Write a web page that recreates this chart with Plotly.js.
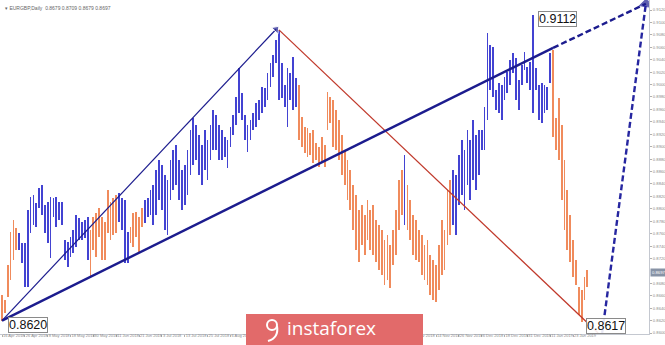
<!DOCTYPE html>
<html>
<head>
<meta charset="utf-8">
<script src="https://cdn.plot.ly/plotly-3.0.1.min.js"></script>
<style>
  html, body { margin: 0; padding: 0; background: #ffffff; }
  #chart { width: 665px; height: 345px; }
</style>
</head>
<body>
<div id="chart"></div>
<script>
// EURGBP, daily bars from 16 Apr 2018, one entry per trading day
const tickIndex = [0, 8, 16, 24, 32, 40, 48, 56, 64, 72, 80, 88, 96, 104, 112, 120, 128, 136, 144, 152, 160, 168, 176, 184, 192, 200];
const tickLabels = ['16 Apr 2018', '26 Apr 2018', '8 May 2018', '18 May 2018', '30 May 2018', '11 Jun 2018',
  '21 Jun 2018', '3 Jul 2018', '13 Jul 2018', '25 Jul 2018', '6 Aug 2018', '16 Aug 2018', '28 Aug 2018',
  '7 Sep 2018', '19 Sep 2018', '1 Oct 2018', '11 Oct 2018', '23 Oct 2018', '2 Nov 2018', '14 Nov 2018',
  '26 Nov 2018', '6 Dec 2018', '18 Dec 2018', '31 Dec 2018', '11 Jan 2019', '23 Jan 2019'];

// price scale labels, every 0.0020 from 0.8600 to 0.9120 (0.8700 sits under the last-price tag)
const priceTicks = [0.8600, 0.8620, 0.8640, 0.8660, 0.8680, 0.8720, 0.8740, 0.8760, 0.8780,
  0.8800, 0.8820, 0.8840, 0.8860, 0.8880, 0.8900, 0.8920, 0.8940, 0.8960, 0.8980, 0.9000,
  0.9020, 0.9040, 0.9060, 0.9080, 0.9100, 0.9120];

const high = [
  0.8661, 0.8653, 0.8709, 0.8763, 0.8782, 0.8769, 0.8761, 0.8745, 0.8745, 0.8798,
  0.8819, 0.8822, 0.8809, 0.8833, 0.8838, 0.8806, 0.8811, 0.8819, 0.8817, 0.8819,
  0.8811, 0.8811, 0.8750, 0.8747, 0.8755, 0.8766, 0.8790, 0.8785, 0.8779, 0.8782,
  0.8787, 0.8766, 0.8787, 0.8793, 0.8801, 0.8787, 0.8779, 0.8830, 0.8811, 0.8817,
  0.8822, 0.8825, 0.8817, 0.8814, 0.8763, 0.8771, 0.8793, 0.8795, 0.8787, 0.8801,
  0.8814, 0.8817, 0.8830, 0.8838, 0.8862, 0.8879, 0.8870, 0.8854, 0.8846, 0.8879,
  0.8895, 0.8903, 0.8879, 0.8862, 0.8870, 0.8895, 0.8927, 0.8946, 0.8935, 0.8919,
  0.8903, 0.8927, 0.8911, 0.8935, 0.8959, 0.8951, 0.8935, 0.8927, 0.8916, 0.8911,
  0.8932, 0.8951, 0.8980, 0.9027, 0.8986, 0.8951, 0.8935, 0.8943, 0.8954, 0.8970,
  0.8975, 0.8996, 0.8994, 0.9019, 0.9035, 0.9048, 0.9072, 0.9088, 0.9035, 0.8999,
  0.9027, 0.9019, 0.9044, 0.9011, 0.8999, 0.8948, 0.8932, 0.8930, 0.8922, 0.8927,
  0.8906, 0.8900, 0.8916, 0.8903, 0.8988, 0.8980, 0.8975, 0.8959, 0.8943, 0.8919,
  0.8895, 0.8879, 0.8862, 0.8838, 0.8822, 0.8798, 0.8806, 0.8790, 0.8814, 0.8798,
  0.8806, 0.8782, 0.8774, 0.8766, 0.8750, 0.8758, 0.8742, 0.8766, 0.8798, 0.8846,
  0.8862, 0.8887, 0.8838, 0.8814, 0.8790, 0.8782, 0.8766, 0.8758, 0.8742, 0.8750,
  0.8726, 0.8718, 0.8709, 0.8742, 0.8782, 0.8766, 0.8830, 0.8846, 0.8862, 0.8854,
  0.8887, 0.8911, 0.8895, 0.8927, 0.8911, 0.8943, 0.8919, 0.8927, 0.8927, 0.8964,
  0.9083, 0.9064, 0.9060, 0.8991, 0.9002, 0.8999, 0.9012, 0.9020, 0.9040, 0.9051,
  0.9043, 0.9007, 0.9031, 0.9052, 0.9028, 0.9036, 0.9112, 0.9027, 0.8999, 0.9002,
  0.8999, 0.8996, 0.9051, 0.9056, 0.8946, 0.8978, 0.8935, 0.8879, 0.8830, 0.8790,
  0.8750, 0.8718, 0.8674, 0.8669, 0.8690, 0.8701
];

const low = [
  0.8620, 0.8632, 0.8658, 0.8685, 0.8718, 0.8734, 0.8734, 0.8713, 0.8674, 0.8674,
  0.8761, 0.8774, 0.8771, 0.8801, 0.8790, 0.8761, 0.8745, 0.8721, 0.8787, 0.8771,
  0.8782, 0.8774, 0.8718, 0.8706, 0.8722, 0.8729, 0.8738, 0.8750, 0.8750, 0.8753,
  0.8718, 0.8690, 0.8734, 0.8722, 0.8755, 0.8718, 0.8718, 0.8761, 0.8750, 0.8758,
  0.8761, 0.8779, 0.8766, 0.8713, 0.8713, 0.8745, 0.8738, 0.8755, 0.8729, 0.8771,
  0.8777, 0.8787, 0.8790, 0.8774, 0.8790, 0.8814, 0.8798, 0.8766, 0.8758, 0.8814,
  0.8830, 0.8838, 0.8814, 0.8798, 0.8806, 0.8822, 0.8854, 0.8870, 0.8879, 0.8854,
  0.8838, 0.8862, 0.8846, 0.8879, 0.8895, 0.8895, 0.8879, 0.8879, 0.8883, 0.8866,
  0.8900, 0.8919, 0.8935, 0.8954, 0.8943, 0.8911, 0.8891, 0.8911, 0.8927, 0.8932,
  0.8943, 0.8954, 0.8964, 0.8975, 0.8996, 0.9012, 0.9035, 0.8975, 0.8978, 0.8964,
  0.8932, 0.8975, 0.8959, 0.8964, 0.8911, 0.8900, 0.8890, 0.8883, 0.8887, 0.8874,
  0.8879, 0.8867, 0.8874, 0.8867, 0.8927, 0.8938, 0.8900, 0.8895, 0.8879, 0.8854,
  0.8838, 0.8814, 0.8798, 0.8766, 0.8734, 0.8714, 0.8742, 0.8726, 0.8750, 0.8734,
  0.8726, 0.8714, 0.8701, 0.8693, 0.8677, 0.8685, 0.8672, 0.8709, 0.8726, 0.8766,
  0.8790, 0.8774, 0.8766, 0.8750, 0.8726, 0.8718, 0.8714, 0.8693, 0.8685, 0.8677,
  0.8661, 0.8653, 0.8650, 0.8669, 0.8693, 0.8701, 0.8742, 0.8758, 0.8774, 0.8758,
  0.8806, 0.8822, 0.8798, 0.8838, 0.8814, 0.8846, 0.8830, 0.8854, 0.8895, 0.8895,
  0.8943, 0.8991, 0.8980, 0.8959, 0.8954, 0.8943, 0.8975, 0.8986, 0.8999, 0.9019,
  0.8975, 0.8959, 0.8999, 0.9023, 0.9002, 0.8991, 0.8954, 0.8991, 0.8943, 0.8938,
  0.8954, 0.8959, 0.9002, 0.8916, 0.8895, 0.8879, 0.8814, 0.8766, 0.8734, 0.8714,
  0.8690, 0.8677, 0.8629, 0.8617, 0.8653, 0.8674
];

const lastClose = 0.8697;

// wave legs as runs of bars: direction and bar count
const waveRuns = [['down', 6], ['up', 25], ['down', 10], ['up', 4], ['down', 5], ['up', 54],
  ['down', 37], ['up', 1], ['down', 16], ['up', 35], ['down', 13]];

// marked extremes
const markX = [0, 186, 203];
const markY = [0.8620, 0.9112, 0.8617];

// analysis drawings (bar index, price)
const impulseX = [0, 96];
const impulseY = [0.8620, 0.9089];
const correctionX = [97, 208.8];
const correctionY = [0.9088, 0.8600];
const trendX = [0, 193, 225.5];
const trendY = [0.8620, 0.9059, 0.9130];
const forecastX = [210.2, 225.5];
const forecastY = [0.8600, 0.9130];

const BLUE = '#4343d2';
const ORANGE = '#f08b5c';
const NAVY = '#1c1c8e';
const RED = '#c0392b';
const FONT = 'Liberation Sans, Arial, sans-serif';

const X_RANGE = [-0.7, 226.6];

// plot area is 649 x 334 px; helpers for pixel-placed decorations
const PW = 649, PH = 334;
const px = v => v / PW;
const py = v => (PH - v) / PH;

// the logo banner covers the date scale between these pixel columns
const BANNER = [246, 423];
const tickPx = i => (i - X_RANGE[0]) / (X_RANGE[1] - X_RANGE[0]) * PW;
const shownLabels = tickLabels.map((t, k) => {
  const p = tickPx(tickIndex[k]);
  return (p > BANNER[0] && p < BANNER[1] - 12) ? '' : t;
});

const barDir = [];
waveRuns.forEach(([d, n]) => { for (let k = 0; k < n; k++) barDir.push(d); });
const idx = high.map((_, i) => i);

const traces = [
  {
    type: 'bar',
    x: idx,
    base: low,
    y: high.map((h, i) => h - low[i]),
    width: 0.62,
    marker: { color: barDir.map(d => d === 'up' ? BLUE : ORANGE), line: { width: 0 } },
    hoverinfo: 'skip'
  },
  {
    type: 'scatter', mode: 'lines+markers',
    x: impulseX, y: impulseY,
    line: { color: NAVY, width: 1.2 },
    marker: { symbol: 'triangle-up', size: [0, 8], color: NAVY, angleref: 'previous' }
  },
  {
    type: 'scatter', mode: 'lines',
    x: correctionX, y: correctionY,
    line: { color: RED, width: 1.3 }
  },
  {
    type: 'scatter', mode: 'lines',
    x: trendX.slice(0, 2), y: trendY.slice(0, 2),
    line: { color: NAVY, width: 2.4 }
  },
  {
    type: 'scatter', mode: 'lines',
    x: trendX.slice(1), y: trendY.slice(1),
    line: { color: NAVY, width: 2.4, dash: '6px,3px' }
  },
  {
    type: 'scatter', mode: 'lines+markers',
    x: forecastX, y: forecastY,
    line: { color: '#2626a0', width: 2.4, dash: '6px,3px' },
    marker: { symbol: 'triangle-up', size: [0, 11], color: NAVY, angleref: 'previous' }
  }
];

const labelShift = [6, 5, 4];
const annotations = markX.map((x, k) => ({
  x: x, y: markY[k], xref: 'x', yref: 'y',
  text: markY[k].toFixed(4), showarrow: false,
  xanchor: 'left', yanchor: 'middle', xshift: labelShift[k], yshift: -4,
  font: { family: FONT, size: 12.5, color: '#111111' },
  bgcolor: 'rgba(255,255,255,0.9)', bordercolor: '#8a8a8a', borderwidth: 1, borderpad: 0
}));

annotations.push({
  x: 0.004, y: 0.992, xref: 'paper', yref: 'paper', xanchor: 'left', yanchor: 'top',
  text: '\u25BE EURGBP,Daily  0.8679 0.8709 0.8679 0.8697', showarrow: false,
  font: { family: FONT, size: 5, color: '#666666' }
});
annotations.push({
  x: 1, y: lastClose, xref: 'paper', yref: 'y', xanchor: 'left', yanchor: 'middle',
  xshift: 1, text: lastClose.toFixed(4), showarrow: false,
  font: { family: FONT, size: 4.2, color: '#ffffff' },
  bgcolor: '#8893a6', borderpad: 1
});
annotations.push({
  x: px(331), y: py(328), xref: 'paper', yref: 'paper', xanchor: 'center', yanchor: 'middle',
  text: 'instaforex', showarrow: false,
  font: { family: 'Open Sans, sans-serif', size: 19, color: '#ffffff' }
});

const layout = {
  width: 665, height: 345,
  margin: { l: 0, r: 16, t: 0, b: 11 },
  paper_bgcolor: '#ffffff', plot_bgcolor: '#ffffff',
  showlegend: false,
  bargap: 0,
  xaxis: {
    range: X_RANGE,
    tickvals: tickIndex, ticktext: shownLabels,
    tickangle: 0,
    ticks: 'outside', ticklen: 2, tickcolor: '#b0b0b0',
    ticklabelposition: 'outside right',
    ticklabelstandoff: -3,
    tickfont: { family: FONT, size: 4, color: '#8a8a8a' },
    showgrid: false, zeroline: false,
    showline: true, linecolor: '#c4c8d0', linewidth: 1, mirror: true
  },
  yaxis: {
    side: 'right',
    range: [0.85984, 0.91361],
    tickvals: priceTicks, tickformat: '.4f',
    ticks: 'outside', ticklen: 2, tickcolor: '#b0b0b0',
    tickfont: { family: FONT, size: 4.2, color: '#8a8a8a' },
    showgrid: false, zeroline: false,
    showline: true, linecolor: '#c4c8d0', linewidth: 1, mirror: true
  },
  shapes: [
    {
      type: 'rect', xref: 'paper', yref: 'paper', layer: 'above',
      x0: px(BANNER[0]), x1: px(BANNER[1]), y0: py(314), y1: py(346),
      fillcolor: '#e26a6a', line: { width: 0 }
    },
    {
      type: 'circle', xref: 'paper', yref: 'paper', layer: 'above',
      x0: px(267), x1: px(277), y0: py(330), y1: py(320),
      line: { color: '#ffffff', width: 2 }, fillcolor: 'rgba(0,0,0,0)'
    },
    {
      type: 'path', xref: 'paper', yref: 'paper', layer: 'above',
      path: `M ${px(277)},${py(326)} Q ${px(279)},${py(338)} ${px(268)},${py(341)}`,
      line: { color: '#ffffff', width: 2 }, fillcolor: 'rgba(0,0,0,0)'
    }
  ],
  annotations: annotations
};

Plotly.newPlot('chart', traces, layout, { staticPlot: true, displayModeBar: false });
</script>
</body>
</html>
